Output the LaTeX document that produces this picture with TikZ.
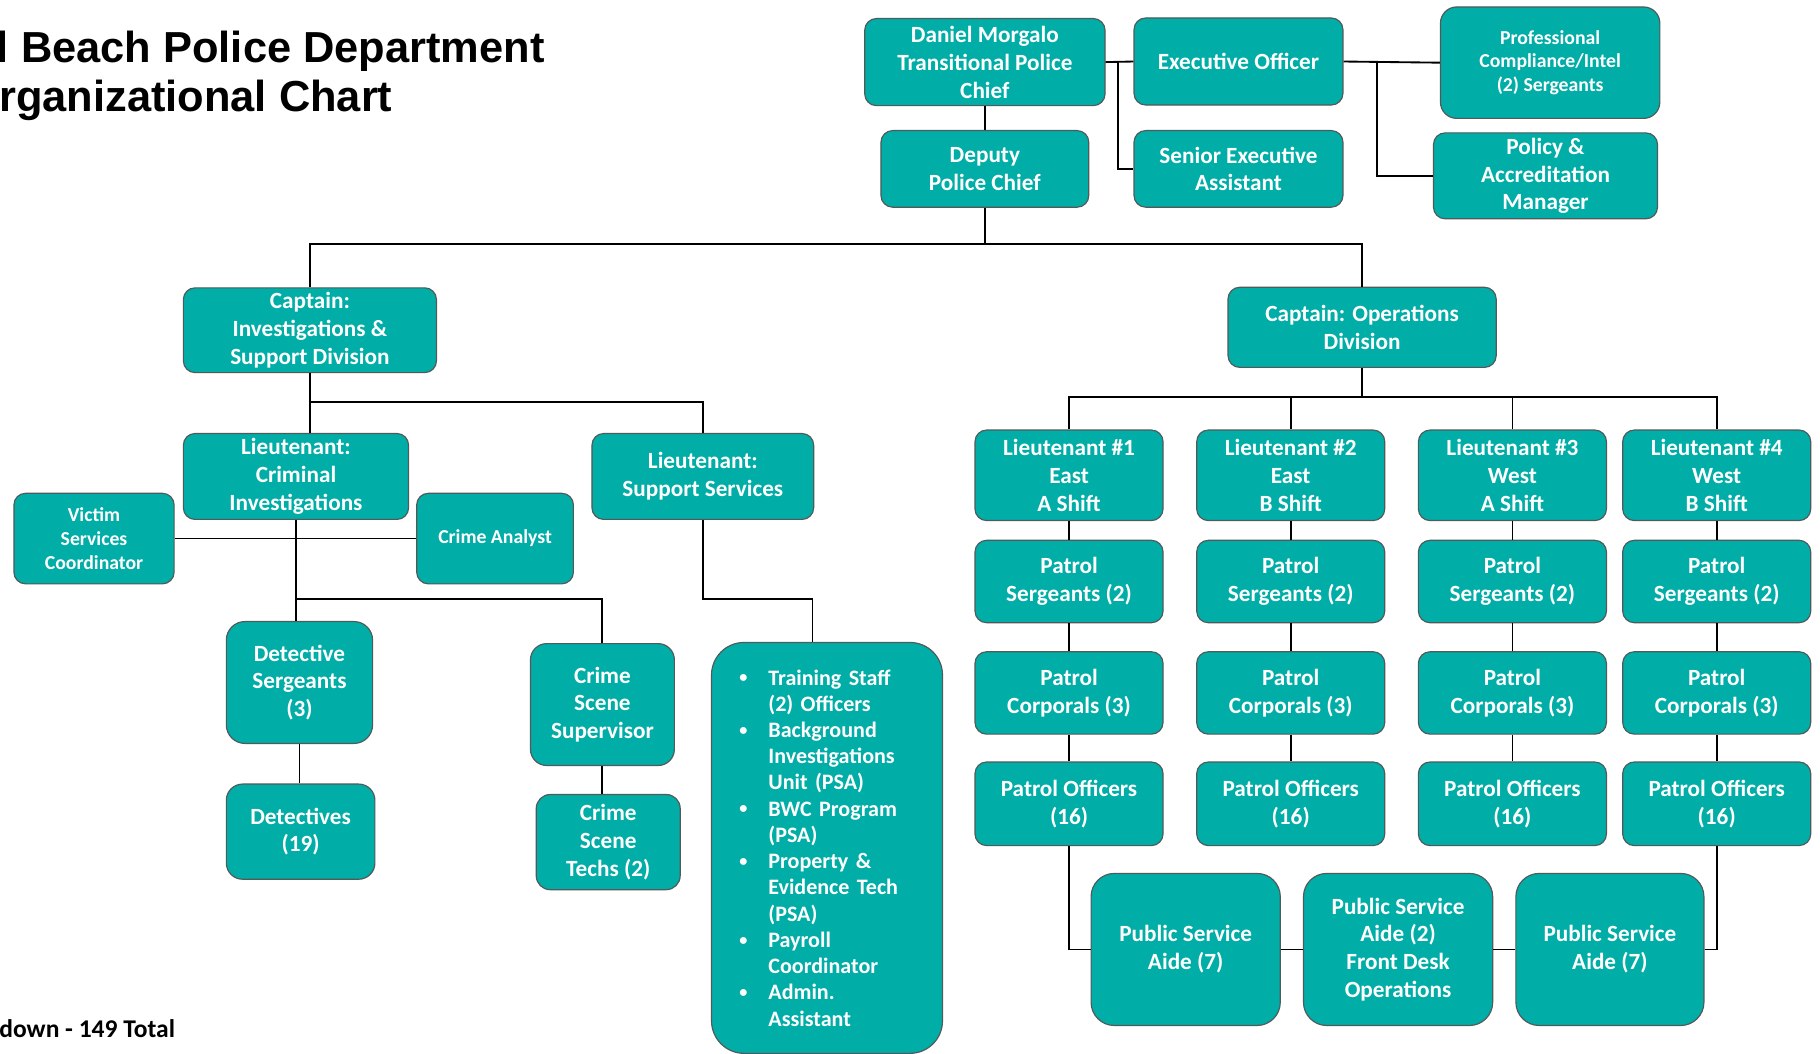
\documentclass[tikz,border=0pt]{standalone}
\usepackage{fontspec}
\setmainfont{Carlito}
\newfontfamily\titlefont{Liberation Sans}
\definecolor{boxteal}{RGB}{0,173,167}
\definecolor{boxedge}{RGB}{80,90,90}
\newcommand{\lbul}{\makebox[12.5pt][l]{\raisebox{1pt}{\fontsize{7}{7}\selectfont\textbullet}}}
\newcommand{\lind}{\hspace*{12.5pt}}
\begin{document}
\begin{tikzpicture}[x=0.5pt,y=-0.5pt,
  box/.style={draw=boxedge, line width=0.5pt, fill=boxteal, rounded corners=5pt,
    text=white, align=center, inner sep=1pt,
    font=\bfseries\fontsize{10}{12}\selectfont},
  smallbox/.style={box, font=\bfseries\fontsize{8.5}{10.3}\selectfont},
  wire/.style={draw=black, line width=0.8pt},
  colbox/.style={box, minimum width=81pt}
]
\fill[white] (0,0) rectangle (1568,908);
\useasboundingbox (0,0) rectangle (1568,908);

% title
\node[anchor=base west, inner sep=0, font=\titlefont\bfseries\fontsize{18.7}{19.5}\selectfont] (title1) at (-3,54) {l Beach Police Department};
\node[anchor=base west, inner sep=0, font=\titlefont\bfseries\fontsize{18.7}{19.5}\selectfont] (title2) at (-1,96) {rganizational Chart};
\node[anchor=base west, inner sep=0, font=\bfseries\fontsize{11}{13}\selectfont] (total) at (-1,894) {down - 149 Total};

% top
\node[box, minimum width=103.5pt, minimum height=37.5pt] (chief) at (848.5,53.5) {Daniel Morgalo\\Transitional Police\\Chief};
\node[box, minimum width=90pt, minimum height=37.5pt] (exec) at (1067,53) {Executive Officer};
\node[smallbox, minimum width=94.5pt, minimum height=48pt, rounded corners=7pt] (prof) at (1335.5,54) {Professional\\Compliance/Intel\\(2) Sergeants};
\node[box, minimum width=89.5pt, minimum height=33pt] (deputy) at (848.5,145.5) {Deputy\\Police Chief};
\node[box, minimum width=90pt, minimum height=33pt] (senior) at (1067,145.5) {Senior Executive\\Assistant};
\node[box, minimum width=96.5pt, minimum height=37pt] (policy) at (1331.5,151.5) {Policy \&\\Accreditation\\Manager};

% captains
\node[box, minimum width=109pt, minimum height=36.5pt] (capIS) at (267,284.5) {Captain:\\Investigations \&\\Support Division};
\node[box, minimum width=115.5pt, minimum height=34.5pt] (capOps) at (1173.5,282) {Captain: Operations\\Division};

% investigations side
\node[box, minimum width=97pt, minimum height=37pt] (ltCrim) at (255,410.5) {Lieutenant:\\Criminal\\Investigations};
\node[box, minimum width=95.5pt, minimum height=37pt] (ltSup) at (605.5,410.5) {Lieutenant:\\Support Services};
\node[smallbox, minimum width=69pt, minimum height=39pt] (victim) at (81,464) {Victim\\Services\\Coordinator};
\node[smallbox, minimum width=67.5pt, minimum height=39pt] (analyst) at (426.5,464) {Crime Analyst};
\node[box, minimum width=63pt, minimum height=52.5pt, rounded corners=8pt] (detSgt) at (258,588) {Detective\\Sergeants\\(3)};
\node[box, minimum width=64pt, minimum height=41pt, rounded corners=7pt] (dets) at (259,716.5) {Detectives\\(19)};
\node[box, minimum width=62pt, minimum height=52.5pt, rounded corners=7pt] (csSup) at (519,607) {Crime\\Scene\\Supervisor};
\node[box, minimum width=62pt, minimum height=41pt, rounded corners=6pt] (csTech) at (524,725.5) {Crime\\Scene\\Techs (2)};
\node[box, minimum width=99.5pt, minimum height=177pt, rounded corners=14pt, align=left,
  text width=75.5pt, inner xsep=12pt, font=\bfseries\fontsize{9.5}{11.3}\selectfont] (list) at (712.5,730.5)
 {\lbul Training Staff\\
  \lind(2) Officers\\
  \lbul Background\\
  \lind Investigations\\
  \lind Unit (PSA)\\
  \lbul BWC Program\\
  \lind(PSA)\\
  \lbul Property \&\\
  \lind Evidence Tech\\
  \lind(PSA)\\
  \lbul Payroll\\
  \lind Coordinator\\
  \lbul Admin.\\
  \lind Assistant};

% operations side
\foreach \i/\x/\area/\shift in {1/921/East/A, 2/1112/East/B, 3/1303/West/A, 4/1479/West/B}{
  \node[colbox, minimum height=39pt] (lt\i) at (\x,409.5) {Lieutenant \#\i\\\area\\\shift{} Shift};
  \node[colbox, minimum height=35.5pt] (sgt\i) at (\x,501) {Patrol\\Sergeants (2)};
  \node[colbox, minimum height=35.5pt] (cpl\i) at (\x,597) {Patrol\\Corporals (3)};
  \node[colbox, minimum height=36pt] (off\i) at (\x,692.5) {Patrol Officers\\(16)};
}
\node[box, minimum width=81.5pt, minimum height=65.5pt, rounded corners=10pt] (psa1) at (1021.5,818) {Public Service\\Aide (7)};
\node[box, minimum width=81.5pt, minimum height=65.5pt, rounded corners=10pt] (psa2) at (1204.5,818) {Public Service\\Aide (2)\\Front Desk\\Operations};
\node[box, minimum width=81pt, minimum height=65.5pt, rounded corners=10pt] (psa3) at (1387,818) {Public Service\\Aide (7)};

% connectors top
\coordinate (j1) at (963,53);
\coordinate (j2) at (1186,53);
\draw[wire] (chief.east) -- (exec.west);
\draw[wire] (j1) |- (senior.west);
\draw[wire] (exec.east) -- (prof.west);
\draw[wire] (j2) |- (policy.west);
\draw[wire] (chief.south) -- (deputy.north);
\coordinate (h1) at (848.5,210);
\draw[wire] (deputy.south) -- (h1);
\draw[wire] (capIS.north) |- (h1) -| (capOps.north);

% investigations connectors
\coordinate (h2) at (267,346);
\draw[wire] (capIS.south) -- (h2) -| (ltSup.north);
\draw[wire] (h2) -- (h2 |- ltCrim.north);
\draw[wire] (victim.east) -- (analyst.west);
\coordinate (h3) at (255,516);
\draw[wire] (ltCrim.south) -- (ltCrim.south |- detSgt.north);
\draw[wire] (h3) -| (csSup.north);
\draw[wire] (detSgt.south) -- (detSgt.south |- dets.north);
\draw[wire] (csSup.south) -- (csSup.south |- csTech.north);
\coordinate (h4) at (700,516);
\draw[wire] (ltSup.south) |- (h4) -- (h4 |- list.north);

% operations connectors
\coordinate (h5) at (1173.5,342);
\draw[wire] (capOps.south) -- (h5);
\draw[wire] (lt1.north) |- (h5) -| (lt4.north);
\draw[wire] (lt2.north) -- (lt2.north |- h5);
\draw[wire] (lt3.north) -- (lt3.north |- h5);
\foreach \i in {1,2,3,4}{
  \draw[wire] (lt\i.south) -- (sgt\i.north);
  \draw[wire] (sgt\i.south) -- (cpl\i.north);
  \draw[wire] (cpl\i.south) -- (off\i.north);
}
\draw[wire] (off1.south) |- (psa1.west);
\draw[wire] (psa1.east) -- (psa2.west);
\draw[wire] (psa2.east) -- (psa3.west);
\draw[wire] (psa3.east) -| (off4.south);
\end{tikzpicture}
\end{document}
